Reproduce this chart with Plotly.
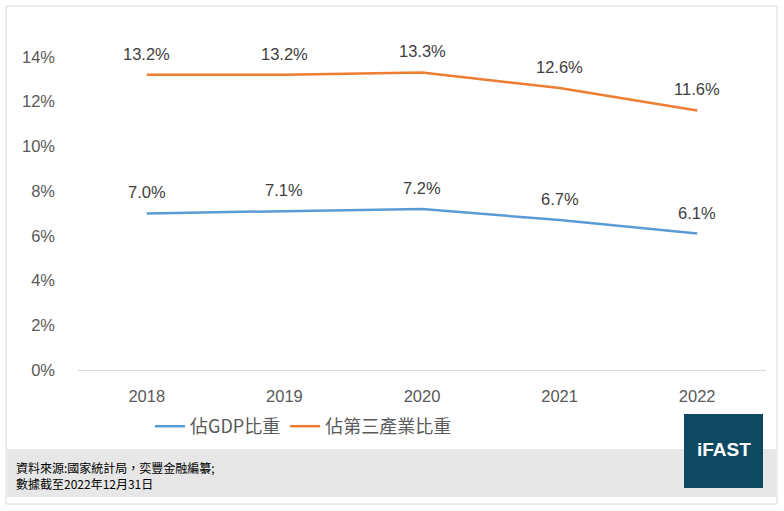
import plotly.graph_objects as go

years = ["2018", "2019", "2020", "2021", "2022"]
gdp_share = [7.0, 7.1, 7.2, 6.7, 6.1]
tertiary_share = [13.2, 13.2, 13.3, 12.6, 11.6]
series_names = ["佔GDP比重", "佔第三產業比重"]
y_ticks = [0, 2, 4, 6, 8, 10, 12, 14]
source_lines = ["資料來源:國家統計局，奕豐金融編纂;", "數據截至2022年12月31日"]

blue = "#5b9bd5"
orange = "#ed7d31"
label_font = dict(family="Liberation Sans, Arial", size=16.5, color="#404040")

# plot area in pixels: x 78..766, y 12..370
L, R, T, B = 78, 18, 12, 141
W, H = 784 - L - R, 511 - T - B


def px(x):
    return (x - L) / W


def py(y):
    return (511 - B - y) / H


fig = go.Figure()
fig.add_trace(go.Scatter(x=years, y=gdp_share, mode="lines", name=series_names[0],
                         line=dict(color=blue, width=2.5)))
fig.add_trace(go.Scatter(x=years, y=tertiary_share, mode="lines", name=series_names[1],
                         line=dict(color=orange, width=2.5)))

annotations = []
for vals in (gdp_share, tertiary_share):
    for i, v in enumerate(vals):
        annotations.append(dict(x=i, y=v, xref="x", yref="y", text=f"{v:.1f}%",
                                showarrow=False, yshift=21, font=label_font))

# footer text and logo
for k, line in enumerate(source_lines):
    annotations.append(dict(xref="paper", yref="paper", x=px(14), y=py(467 + 16.5 * k),
                            xanchor="left", yanchor="middle", showarrow=False, text=line,
                            font=dict(family="Noto Sans CJK TC", size=12, color="#000000")))
annotations.append(dict(xref="paper", yref="paper", x=px(723.5), y=py(449), showarrow=False,
                        xanchor="center", yanchor="middle", text="<b>iFAST</b>",
                        font=dict(family="Liberation Sans, Arial", size=19, color="white")))

shapes = [
    # outer border
    dict(type="rect", xref="paper", yref="paper", x0=px(6), x1=px(777), y0=py(6), y1=py(504),
         line=dict(color="#d9d9d9", width=1), fillcolor="rgba(0,0,0,0)", layer="below"),
    # gray footer band
    dict(type="rect", xref="paper", yref="paper", x0=px(7), x1=px(776), y0=py(449), y1=py(497),
         line=dict(width=0), fillcolor="#e7e7e7", layer="below"),
    # logo box
    dict(type="rect", xref="paper", yref="paper", x0=px(684), x1=px(763), y0=py(414), y1=py(488),
         line=dict(width=0), fillcolor="#0d4a61", layer="below"),
]

fig.update_layout(
    width=784, height=511,
    margin=dict(l=L, r=R, t=T, b=B),
    paper_bgcolor="white", plot_bgcolor="white",
    showlegend=True,
    legend=dict(orientation="h", x=px(150), y=py(408), xanchor="left", yanchor="top",
                font=dict(family="Noto Sans CJK TC", size=18, color="#595959"),
                itemwidth=30, bgcolor="rgba(0,0,0,0)"),
    annotations=annotations,
    shapes=shapes,
)
fig.update_xaxes(type="category", showgrid=False, showline=False, ticks="", zeroline=False,
                 tickfont=dict(family="Liberation Sans, Arial", size=16.5, color="#595959"),
                 range=[-0.5, 4.5], ticklabelstandoff=14)
fig.update_yaxes(range=[0, 16], tickvals=y_ticks, ticktext=[f"{t}%" for t in y_ticks],
                 showgrid=False, zeroline=True, zerolinecolor="#d9d9d9", zerolinewidth=1,
                 tickfont=dict(family="Liberation Sans, Arial", size=16.5, color="#595959"),
                 ticklabelstandoff=22)

fig.write_html("out.html", config={"displayModeBar": False},
               post_script="document.body.style.margin='0';")
